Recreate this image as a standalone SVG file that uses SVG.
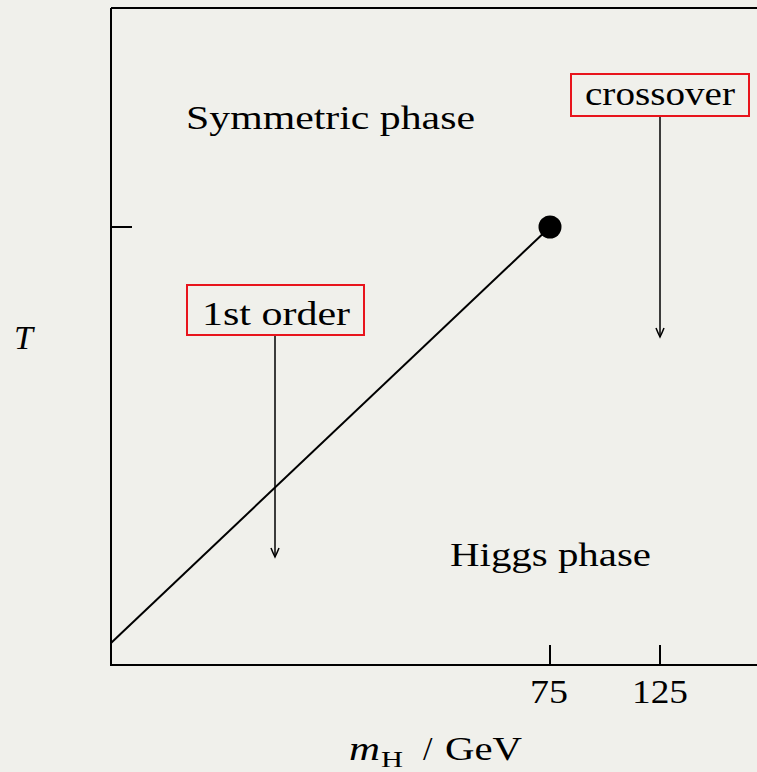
<svg xmlns="http://www.w3.org/2000/svg" width="757" height="772" viewBox="0 0 757 772">
<style>
.t{font-family:"Liberation Serif","DejaVu Serif",serif;font-size:34px;fill:#000}
.i{font-style:italic}
.ln{stroke:#000;stroke-width:2;fill:none}
.box{stroke:#e8141c;stroke-width:2;fill:none}
</style>
<defs>
<marker id="ah" viewBox="0 0 12 10" refX="10" refY="5" markerWidth="12" markerHeight="10" markerUnits="userSpaceOnUse" orient="auto">
<path d="M1,1 Q6,3 10,5 Q6,7 1,9" fill="none" stroke="#000" stroke-width="1.5"/>
</marker>
</defs>
<rect width="757" height="772" fill="#f0f0eb"/>
<g id="frame">
<path class="ln" d="M111,8 H760 M111,8 V665 H760"/>
<path class="ln" d="M111,227 H132 M550,645 V665 M660,645 V665"/>
</g>
<g id="connectors">
<line class="ln" x1="111" y1="643" x2="550" y2="227"/>
<line x1="660" y1="117" x2="660" y2="337" stroke="#000" stroke-width="1.5" marker-end="url(#ah)"/>
<line x1="275" y1="336" x2="275" y2="557" stroke="#000" stroke-width="1.5" marker-end="url(#ah)"/>
</g>
<g id="critical-point"><circle cx="550" cy="227" r="11.5" fill="#000"/></g>
<g id="symmetric"><text class="t" x="186" y="129" textLength="289" lengthAdjust="spacingAndGlyphs">Symmetric phase</text></g>
<g id="higgs"><text class="t" x="450" y="566" textLength="201" lengthAdjust="spacingAndGlyphs">Higgs phase</text></g>
<g id="crossover">
<rect class="box" x="571" y="74" width="178" height="42"/>
<text class="t" x="585" y="105" textLength="150" lengthAdjust="spacingAndGlyphs">crossover</text>
</g>
<g id="first-order">
<rect class="box" x="187" y="285" width="177" height="50"/>
<text class="t" x="202" y="325" textLength="148" lengthAdjust="spacingAndGlyphs">1st order</text>
</g>
<g id="ticks">
<text class="t" x="530" y="703" textLength="38" lengthAdjust="spacingAndGlyphs">75</text>
<text class="t" x="632" y="703" textLength="56" lengthAdjust="spacingAndGlyphs">125</text>
</g>
<g id="ylabel"><text class="t i" x="14" y="349">T</text></g>
<g id="xlabel">
<text class="t i" x="349" y="760" textLength="31" lengthAdjust="spacingAndGlyphs">m</text>
<text class="t" x="381" y="767" font-size="24" style="font-size:24px" textLength="22" lengthAdjust="spacingAndGlyphs">H</text>
<text class="t" x="423" y="760">/</text>
<text class="t" x="445" y="760" textLength="77" lengthAdjust="spacingAndGlyphs">GeV</text>
</g>
</svg>
